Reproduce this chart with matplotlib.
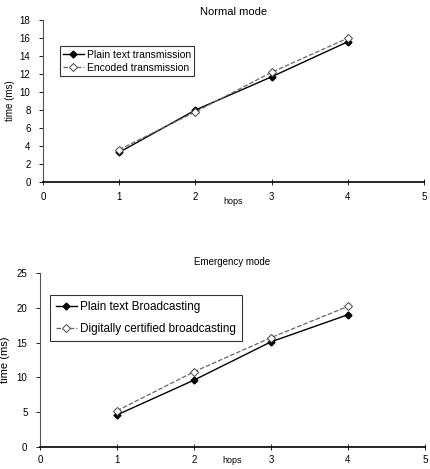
import numpy as np
import matplotlib.pyplot as plt

plt.rcParams['font.family'] = ['Liberation Sans', 'DejaVu Sans']

hops = [1, 2, 3, 4]

# Normal mode
normal_plain = [3.3, 8.0, 11.7, 15.6]
normal_encoded = [3.6, 7.8, 12.2, 16.0]

# Emergency mode
emerg_plain = [4.6, 9.6, 15.1, 19.0]
emerg_cert = [5.2, 10.8, 15.7, 20.2]

fig = plt.figure(figsize=(4.30, 4.69), dpi=100)
ax1 = fig.add_axes([0.100, 0.612, 0.886, 0.345])
ax2 = fig.add_axes([0.093, 0.047, 0.895, 0.371])


def style(ax, ymax, ystep, xpad):
    ax.set_xlim(0, 5)
    ax.set_ylim(0, ymax)
    ax.set_xticks(range(0, 6))
    ax.set_yticks(np.arange(0, ymax + 1, ystep))
    ax.spines['top'].set_visible(False)
    ax.spines['right'].set_visible(False)
    ax.spines['left'].set_color('#555555')
    ax.spines['left'].set_linewidth(0.8)
    ax.spines['bottom'].set_linewidth(1.2)
    ax.tick_params(axis='y', labelsize=7, length=3, width=0.6, pad=6)
    ax.tick_params(axis='x', labelsize=7, direction='inout', length=4, width=0.6, pad=xpad)


ax1.plot(hops, normal_plain, color='black', lw=1.0, marker='D', ms=3.5,
         label='Plain text transmission')
ax1.plot(hops, normal_encoded, color='#666666', lw=0.9, ls='--', marker='D', ms=4,
         mfc='white', mec='#444444', mew=0.7, label='Encoded transmission')
style(ax1, 18, 2, 5)
ax1.set_title('Normal mode', fontsize=8, pad=4)
ax1.set_ylabel('time (ms)', fontsize=7, labelpad=3)
ax1.text(2.5, -2.2, 'hops', fontsize=6.5, ha='center', va='center')
leg1 = ax1.legend(loc='upper left', bbox_to_anchor=(0.03, 0.87), fontsize=7.5,
                  frameon=True, fancybox=False, edgecolor='black',
                  handlelength=2.0, borderpad=0.3, labelspacing=0.3, handletextpad=0.3)
leg1.get_frame().set_linewidth(0.8)

ax2.plot(hops, emerg_plain, color='black', lw=1.0, marker='D', ms=3.5,
         label='Plain text Broadcasting')
ax2.plot(hops, emerg_cert, color='#666666', lw=0.9, ls='--', marker='D', ms=4,
         mfc='white', mec='#444444', mew=0.7, label='Digitally certified broadcasting')
style(ax2, 25, 5, 4)
ax2.set_title('Emergency mode', fontsize=7, pad=6)
ax2.set_ylabel('time (ms)', fontsize=8, labelpad=5)
ax2.text(2.5, -1.9, 'hops', fontsize=6.5, ha='center', va='center')
leg2 = ax2.legend(loc='upper left', bbox_to_anchor=(0.01, 0.905), fontsize=8.5,
                  frameon=True, fancybox=False, edgecolor='black',
                  handlelength=1.8, borderpad=0.5, labelspacing=0.8, handletextpad=0.3)
leg2.get_frame().set_linewidth(0.8)

fig.savefig('out.png', dpi=100)
